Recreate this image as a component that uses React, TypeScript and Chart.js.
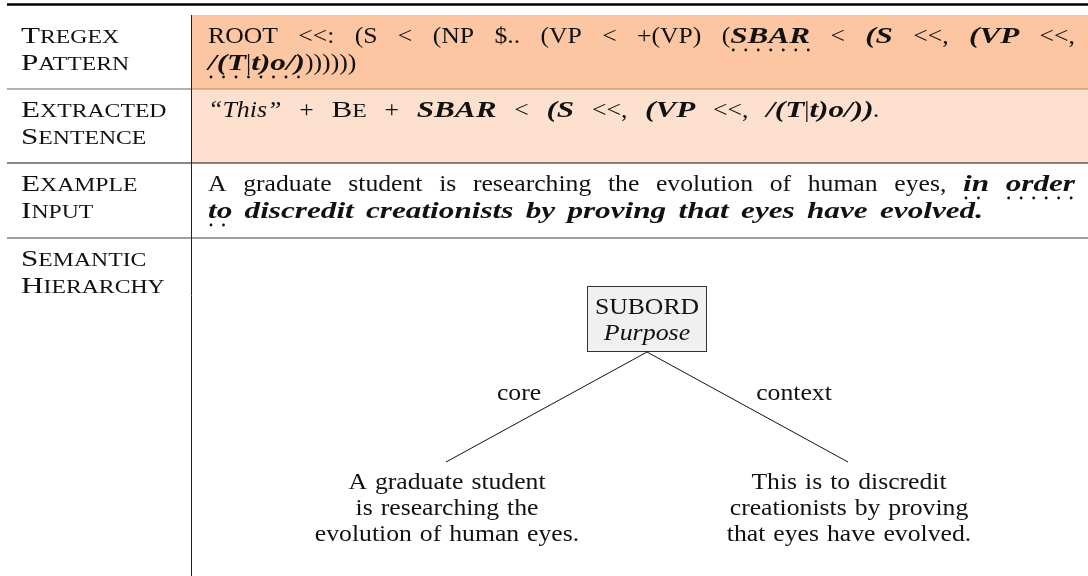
import React, { useEffect, useRef } from "react";
import { Chart, registerables } from "chart.js";

Chart.register(...registerables);

// ---------- data ----------
type Seg = [string, string, boolean?]; // text, style (r | i | bi | sc), dotted underline
type Word = Seg[];

const rowLabels: string[][] = [
  ["Tregex", "Pattern"],
  ["Extracted", "Sentence"],
  ["Example", "Input"],
  ["Semantic", "Hierarchy"],
];

const patternLine1: Word[] = [
  [["ROOT", "r"]], [["<<:", "r"]], [["(S", "r"]], [["<", "r"]], [["(NP", "r"]], [["$..", "r"]],
  [["(VP", "r"]], [["<", "r"]], [["+(VP)", "r"]], [["(", "r"], ["SBAR", "bi", true]], [["<", "r"]],
  [["(S", "bi"]], [["<<,", "r"]], [["(VP", "bi"]], [["<<,", "r"]],
];
const patternLine2: Word[] = [
  [["/(T", "bi", true], ["|", "r", true], ["t)o/)", "bi", true], ["))))))", "r"]],
];
const extractedLine: Word[] = [
  [["\u201CThis\u201D", "i"]], [["+", "r"]], [["Be", "sc"]], [["+", "r"]], [["SBAR", "bi"]], [["<", "r"]],
  [["(S", "bi"]], [["<<,", "r"]], [["(VP", "bi"]], [["<<,", "r"]],
  [["/(T", "bi"], ["|", "r"], ["t)o/))", "bi"], [".", "i"]],
];
const inputLine1: Word[] = [
  ..."A graduate student is researching the evolution of human eyes,".split(" ").map((w) => [[w, "r"]] as Word),
  [["in", "bi", true]], [["order", "bi", true]],
];
const inputLine2: Word[] = [
  [["to", "bi", true]],
  ..."discredit creationists by proving that eyes have evolved.".split(" ").map((w) => [[w, "bi"]] as Word),
];

const rootTitle = "SUBORD";
const rootRelation = "Purpose";
const edgeLabels = ["core", "context"];
const leafTexts: string[][] = [
  ["A graduate student", "is researching the", "evolution of human eyes."],
  ["This is to discredit", "creationists by proving", "that eyes have evolved."],
];

// ---------- layout ----------
const W = 1088;
const H = 576;
const FONT = "'Liberation Serif', 'DejaVu Serif', serif";
const SIZE = 24;
const SPACE = 8;
const LEAD = 27;
const STRETCH: Record<string, number> = { r: 1.07, i: 1.08, bi: 1.3, sc: 1.3 };
const rowTops = [15, 89, 163, 238, 576];
const rowBaselines = [43, 117, 191, 266];
const colX = 191.5;
const labelX = 21;
const textX = 208;
const rootBox = { x0: 587, x1: 707, y0: 286, y1: 352 };
const leafAnchors = [
  { x: 446, y: 462 },
  { x: 848, y: 462 },
];

function fontFor(style: string, size: number) {
  if (style === "i") return `italic ${size}px ${FONT}`;
  if (style === "bi") return `italic bold ${size}px ${FONT}`;
  return `${size}px ${FONT}`;
}

function rawText(ctx: CanvasRenderingContext2D, t: string, style: string, size: number, x: number, y: number, draw: boolean) {
  const sx = STRETCH[style] ?? 1;
  ctx.font = fontFor(style === "sc" ? "r" : style, size);
  const w = ctx.measureText(t).width * sx;
  if (draw) {
    ctx.save();
    ctx.translate(x, y);
    ctx.scale(sx, 1);
    ctx.fillText(t, 0, 0);
    ctx.restore();
  }
  return w;
}

function seg(ctx: CanvasRenderingContext2D, s: Seg, x: number, y: number, size: number, draw: boolean) {
  const [t, st] = s;
  if (st === "sc") {
    const w0 = rawText(ctx, t[0].toUpperCase(), "sc", size, x, y, draw);
    const w1 = rawText(ctx, t.slice(1).toUpperCase(), "sc", size * 0.76, x + w0, y, draw);
    return w0 + w1;
  }
  return rawText(ctx, t, st, size, x, y, draw);
}

function drawDots(ctx: CanvasRenderingContext2D, x0: number, x1: number, y: number) {
  ctx.save();
  ctx.fillStyle = "#111";
  for (let x = x0 + 3; x <= x1; x += 12.5) {
    ctx.beginPath();
    ctx.arc(x, y, 1.4, 0, Math.PI * 2);
    ctx.fill();
  }
  ctx.restore();
}

function drawLine(
  ctx: CanvasRenderingContext2D,
  words: Word[],
  x: number,
  y: number,
  size: number,
  endX?: number
) {
  const widths = words.map((w) => w.reduce((a, s) => a + seg(ctx, s, 0, 0, size, false), 0));
  const total = widths.reduce((a, b) => a + b, 0);
  let gap = SPACE;
  if (endX !== undefined && words.length > 1) gap = (endX - x - total) / (words.length - 1);
  let cx = x;
  words.forEach((w, i) => {
    let ux0: number | null = null;
    let ux1 = 0;
    w.forEach((s) => {
      const sw = seg(ctx, s, cx, y, size, true);
      if (s[2]) {
        if (ux0 === null) ux0 = cx;
        ux1 = cx + sw;
      }
      cx += sw;
    });
    if (ux0 !== null) drawDots(ctx, ux0, ux1, y + 7);
    if (i < words.length - 1) cx += gap;
  });
}

function drawCentered(ctx: CanvasRenderingContext2D, text: string, style: string, cx: number, y: number) {
  const words = text.split(" ").map((w) => [[w, style]] as Word);
  const total =
    words.reduce((a, w) => a + seg(ctx, w[0], 0, 0, SIZE, false), 0) + SPACE * (words.length - 1);
  drawLine(ctx, words, cx - total / 2, y, SIZE);
}

const tablePlugin = {
  id: "tableFigure",
  beforeDatasetsDraw(chart: any) {
    const ctx: CanvasRenderingContext2D = chart.ctx;
    const px = (v: number) => chart.scales.x.getPixelForValue(v);
    const py = (v: number) => chart.scales.y.getPixelForValue(v);
    ctx.save();
    ctx.fillStyle = "#ffffff";
    ctx.fillRect(px(0), py(0), px(W) - px(0), py(H) - py(0));
    ctx.fillStyle = "#FCC6A2";
    ctx.fillRect(px(colX), py(rowTops[0]), px(W) - px(colX), py(rowTops[1]) - py(rowTops[0]));
    ctx.fillStyle = "#FDE1CE";
    ctx.fillRect(px(colX), py(rowTops[1]), px(W) - px(colX), py(rowTops[2]) - py(rowTops[1]));
    const hline = (y: number, x0: number, x1: number, color: string, lw: number) => {
      ctx.strokeStyle = color;
      ctx.lineWidth = lw;
      ctx.beginPath();
      ctx.moveTo(px(x0), py(y));
      ctx.lineTo(px(x1), py(y));
      ctx.stroke();
    };
    hline(4.5, 7, W, "#000", 2.4);
    hline(rowTops[1], 7, colX, "#666", 1.2);
    hline(rowTops[1], colX, W, "#B08B72", 1.2);
    hline(rowTops[2], 7, W, "#111", 1.2);
    hline(rowTops[3], 7, W, "#808080", 1.6);
    ctx.strokeStyle = "#222";
    ctx.lineWidth = 1;
    ctx.beginPath();
    ctx.moveTo(px(colX), py(rowTops[0]));
    ctx.lineTo(px(colX), py(H));
    ctx.stroke();
    ctx.fillStyle = "#F0F0F0";
    ctx.fillRect(px(rootBox.x0), py(rootBox.y0), px(rootBox.x1) - px(rootBox.x0), py(rootBox.y1) - py(rootBox.y0));
    ctx.strokeStyle = "#333";
    ctx.lineWidth = 1;
    ctx.strokeRect(px(rootBox.x0) + 0.5, py(rootBox.y0) + 0.5, px(rootBox.x1) - px(rootBox.x0) - 1, py(rootBox.y1) - py(rootBox.y0) - 1);
    ctx.restore();
  },
  afterDatasetsDraw(chart: any) {
    const ctx: CanvasRenderingContext2D = chart.ctx;
    const px = (v: number) => chart.scales.x.getPixelForValue(v);
    const py = (v: number) => chart.scales.y.getPixelForValue(v);
    ctx.save();
    ctx.fillStyle = "#111";
    ctx.textBaseline = "alphabetic";
    ctx.textAlign = "left";
    rowLabels.forEach((pair, i) => {
      seg(ctx, [pair[0], "sc"], px(labelX), py(rowBaselines[i]), SIZE, true);
      seg(ctx, [pair[1], "sc"], px(labelX), py(rowBaselines[i] + LEAD), SIZE, true);
    });
    drawLine(ctx, patternLine1, px(textX), py(rowBaselines[0]), SIZE, px(1075));
    drawLine(ctx, patternLine2, px(textX), py(rowBaselines[0] + LEAD), SIZE);
    drawLine(ctx, extractedLine, px(textX), py(rowBaselines[1]), SIZE, px(880));
    drawLine(ctx, inputLine1, px(textX), py(rowBaselines[2]), SIZE, px(1075));
    drawLine(ctx, inputLine2, px(textX), py(rowBaselines[2] + LEAD), SIZE, px(983));
    const cx = (rootBox.x0 + rootBox.x1) / 2;
    drawCentered(ctx, rootTitle, "r", px(cx), py(314));
    drawCentered(ctx, rootRelation, "i", px(cx), py(340));
    drawCentered(ctx, edgeLabels[0], "r", px(519), py(400));
    drawCentered(ctx, edgeLabels[1], "r", px(794), py(400));
    leafTexts.forEach((lines, i) => {
      lines.forEach((l, j) => {
        drawCentered(ctx, l, "r", px(leafAnchors[i].x + 1), py(489 + j * 26));
      });
    });
    ctx.restore();
  },
};

export default function App() {
  const ref = useRef<HTMLCanvasElement | null>(null);
  useEffect(() => {
    document.body.style.margin = "0";
    const canvas = ref.current;
    if (!canvas) return;
    const rootBottom = { x: (rootBox.x0 + rootBox.x1) / 2, y: rootBox.y1 };
    const chart = new Chart(canvas, {
      type: "scatter",
      data: {
        datasets: leafAnchors.map((leaf, i) => ({
          label: edgeLabels[i],
          data: [rootBottom, leaf],
          showLine: true,
          borderColor: "#111",
          borderWidth: 1,
          pointRadius: 0,
          fill: false,
        })),
      },
      options: {
        animation: false,
        responsive: false,
        maintainAspectRatio: false,
        events: [],
        layout: { padding: 0 },
        plugins: { legend: { display: false }, tooltip: { enabled: false } },
        scales: {
          x: { type: "linear", min: 0, max: W, display: false },
          y: { type: "linear", min: 0, max: H, reverse: true, display: false },
        },
      },
      plugins: [tablePlugin],
    } as any);
    return () => chart.destroy();
  }, []);
  return (
    <div style={{ width: W, height: H, background: "#fff" }}>
      <canvas ref={ref} width={W} height={H} style={{ display: "block", width: W, height: H }} />
    </div>
  );
}
